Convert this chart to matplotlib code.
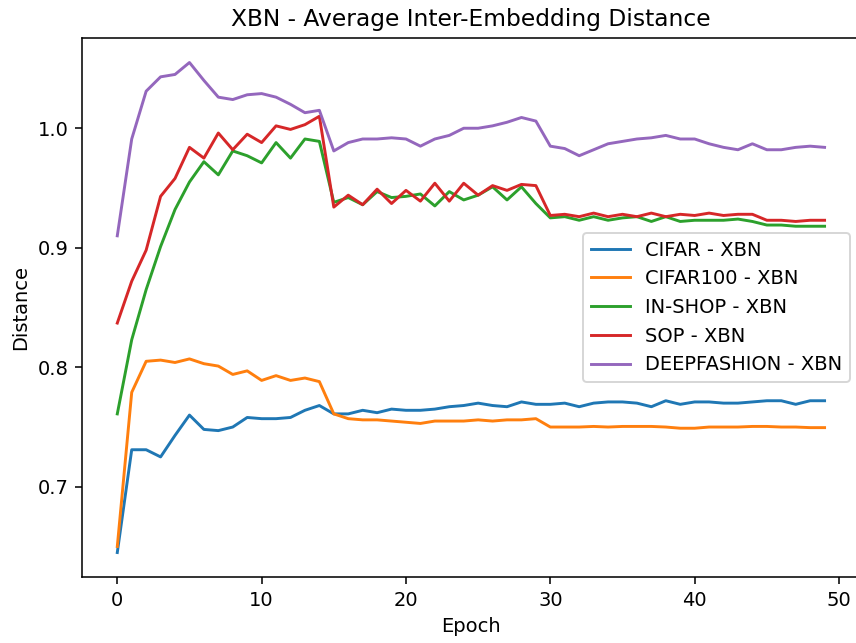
import numpy as np
import matplotlib
matplotlib.use("Agg")
import matplotlib.pyplot as plt

# values, one per epoch (0..49)
epochs = np.arange(50)

cifar = [0.645, 0.731, 0.731, 0.725, 0.743, 0.760, 0.748, 0.747, 0.750, 0.758,
         0.757, 0.757, 0.758, 0.764, 0.768, 0.761, 0.761, 0.764, 0.762, 0.765,
         0.764, 0.764, 0.765, 0.767, 0.768, 0.770, 0.768, 0.767, 0.771, 0.769,
         0.769, 0.770, 0.767, 0.770, 0.771, 0.771, 0.770, 0.767, 0.772, 0.769,
         0.771, 0.771, 0.770, 0.770, 0.771, 0.772, 0.772, 0.769, 0.772, 0.772]

cifar100 = [0.650, 0.779, 0.805, 0.806, 0.804, 0.807, 0.803, 0.801, 0.794, 0.797,
            0.789, 0.793, 0.789, 0.791, 0.788, 0.761, 0.757, 0.756, 0.756, 0.755,
            0.754, 0.753, 0.755, 0.755, 0.755, 0.756, 0.755, 0.756, 0.756, 0.757,
            0.750, 0.750, 0.750, 0.7505, 0.750, 0.7505, 0.7505, 0.7505, 0.750, 0.749,
            0.749, 0.750, 0.750, 0.750, 0.7505, 0.7505, 0.750, 0.750, 0.7495, 0.7495]

inshop = [0.761, 0.823, 0.865, 0.901, 0.932, 0.955, 0.972, 0.961, 0.981, 0.977,
          0.971, 0.988, 0.975, 0.991, 0.989, 0.938, 0.942, 0.936, 0.947, 0.942,
          0.943, 0.945, 0.935, 0.947, 0.940, 0.944, 0.951, 0.940, 0.951, 0.937,
          0.925, 0.926, 0.923, 0.926, 0.923, 0.925, 0.926, 0.922, 0.926, 0.922,
          0.923, 0.923, 0.923, 0.924, 0.922, 0.919, 0.919, 0.918, 0.918, 0.918]

sop = [0.837, 0.872, 0.898, 0.943, 0.958, 0.984, 0.975, 0.996, 0.982, 0.995,
       0.988, 1.002, 0.999, 1.003, 1.010, 0.934, 0.944, 0.936, 0.949, 0.937,
       0.948, 0.939, 0.954, 0.939, 0.954, 0.944, 0.952, 0.948, 0.953, 0.952,
       0.927, 0.928, 0.926, 0.929, 0.926, 0.928, 0.926, 0.929, 0.926, 0.928,
       0.927, 0.929, 0.927, 0.928, 0.928, 0.923, 0.923, 0.922, 0.923, 0.923]

deepfashion = [0.910, 0.991, 1.031, 1.043, 1.045, 1.055, 1.040, 1.026, 1.024, 1.028,
               1.029, 1.026, 1.020, 1.013, 1.015, 0.981, 0.988, 0.991, 0.991, 0.992,
               0.991, 0.985, 0.991, 0.994, 1.000, 1.000, 1.002, 1.005, 1.009, 1.006,
               0.985, 0.983, 0.977, 0.982, 0.987, 0.989, 0.991, 0.992, 0.994, 0.991,
               0.991, 0.987, 0.984, 0.982, 0.987, 0.982, 0.982, 0.984, 0.985, 0.984]

labels = ["CIFAR - XBN", "CIFAR100 - XBN", "IN-SHOP - XBN", "SOP - XBN", "DEEPFASHION - XBN"]

dpi = 140
fig = plt.figure(figsize=(856 / dpi, 643 / dpi), dpi=dpi)
ax = fig.add_axes([0.0957, 0.1026, 0.9089, 0.8383])

for series, label in zip([cifar, cifar100, inshop, sop, deepfashion], labels):
    ax.plot(epochs, series, label=label)

ax.set_title("XBN - Average Inter-Embedding Distance")
ax.set_xlabel("Epoch")
ax.set_ylabel("Distance")
ax.set_xticks([0, 10, 20, 30, 40, 50])
ax.set_yticks([0.7, 0.8, 0.9, 1.0])
ax.legend(loc="center right")

fig.savefig("out.png", dpi=dpi)
